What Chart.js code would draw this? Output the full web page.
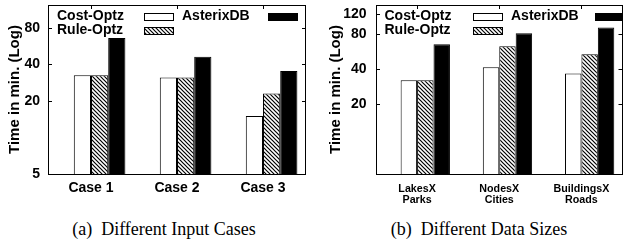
<!DOCTYPE html>
<html>
<head>
<meta charset="utf-8">
<script src="https://cdn.jsdelivr.net/npm/chart.js@4.4.1/dist/chart.umd.min.js"></script>
<style>
  body { margin: 0; background: #fff; width: 623px; height: 242px; position: relative; overflow: hidden; }
  canvas { position: absolute; top: 0; }
  #chartA { left: 0; }
  #chartB { left: 312px; }
  .caption { position: absolute; top: 219px; font-family: "Liberation Serif", "Times New Roman", serif; font-size: 18px; color: #000; white-space: pre; transform: translateX(-50%); }
</style>
</head>
<body>
<canvas id="chartA" width="312" height="212"></canvas>
<canvas id="chartB" width="311" height="212"></canvas>
<div class="caption" style="left:164px">(a)  Different Input Cases</div>
<div class="caption" style="left:479px">(b)  Different Data Sizes</div>
<script>
// series names
const seriesNames = ['Cost-Optz', 'Rule-Optz', 'AsterixDB'];

// (a) different input cases
const casesA = ['Case 1', 'Case 2', 'Case 3'];
const costA = [32.5, 31.2, 15];
const ruleA = [32.5, 31.2, 23];
const asterixA = [65.8, 46.2, 35.2];
const yTicksA = [5, 20, 40, 80];

// (b) different data sizes
const casesB = [['LakesX', 'Parks'], ['NodesX', 'Cities'], ['BuildingsX', 'Roads']];
const costB = [32.1, 41.6, 36.7];
const ruleB = [32.1, 63, 53.7];
const asterixB = [65.5, 81.6, 91.3];
const yTicksB = [20, 40, 80, 120];

// diagonal hatch like gnuplot fill pattern
function makeHatch() {
    const c = document.createElement('canvas');
    c.width = 4; c.height = 4;
    const g = c.getContext('2d');
    g.fillStyle = '#fff';
    g.fillRect(0, 0, 4, 4);
    g.strokeStyle = '#000';
    g.lineWidth = 1.2;
    g.beginPath();
    g.moveTo(-1, -1); g.lineTo(5, 5);
    g.moveTo(-1, 3); g.lineTo(1, 5);
    g.moveTo(3, -1); g.lineTo(5, 1);
    g.stroke();
    return g.createPattern(c, 'repeat');
}
const hatch = makeHatch();
const fills = ['#fff', hatch, '#000'];

// frame, mirrored inner ticks and the gnuplot style key
const framePlugin = {
    id: 'frame',
    afterDatasetsDraw(chart, args, opts) {
        const { ctx, chartArea: a } = chart;
        const ys = chart.scales.y, xs = chart.scales.x;
        ctx.save();
        ctx.strokeStyle = '#000';
        ctx.lineWidth = 1;
        ctx.strokeRect(Math.round(a.left) + 0.5, Math.round(a.top) + 0.5,
            Math.round(a.right - a.left) - 1, Math.round(a.bottom - a.top));
        ys.ticks.forEach(t => {
            if (t.value <= ys.min) return;
            const p = Math.round(ys.getPixelForValue(t.value)) + 0.5;
            ctx.beginPath();
            ctx.moveTo(a.left, p); ctx.lineTo(a.left + 4, p);
            ctx.moveTo(a.right, p); ctx.lineTo(a.right - 4, p);
            ctx.stroke();
        });
        xs.ticks.forEach(t => {
            const p = Math.round(xs.getPixelForValue(t.value)) + 0.5;
            ctx.beginPath();
            ctx.moveTo(p, a.top); ctx.lineTo(p, a.top + 4);
            ctx.stroke();
        });
        ctx.restore();
    },
    afterDraw(chart, args, opts) {
        const { ctx, chartArea: a } = chart;
        const ds = chart.data.datasets;
        ctx.save();
        ctx.font = 'bold 14px "Liberation Sans", Arial, sans-serif';
        ctx.textBaseline = 'middle';
        ctx.strokeStyle = '#000';
        ctx.lineWidth = 1;
        const slots = [
            { tx: opts.textX, sx: opts.swX, y: a.top + 11 },
            { tx: opts.textX, sx: opts.swX, y: a.top + 25 },
            { tx: opts.text2X, sx: opts.sw2X, y: a.top + 11 }
        ];
        ds.forEach((d, i) => {
            const s = slots[i];
            ctx.fillStyle = '#000';
            ctx.fillText(d.label, a.left + s.tx, s.y + 0.5);
            const bx = Math.round(a.left + s.sx) + 0.5, by = Math.round(s.y - 3.5) + 0.5;
            ctx.fillStyle = d.backgroundColor;
            ctx.fillRect(bx, by, 29, 7);
            ctx.strokeRect(bx, by, 29, 7);
        });
        ctx.restore();
    }
};

// drop the label overflow padding so the plot box sits where set
function fixBox(s, w, h) {
    if (w !== undefined) s.width = w;
    if (h !== undefined) s.height = h;
    s.paddingTop = 0; s.paddingBottom = 0;
    s.paddingLeft = 0; s.paddingRight = 0;
}

function buildChart(id, cats, series, yTicks, cfg) {
    const groupShift = 0.1;
    new Chart(document.getElementById(id), {
        type: 'bar',
        data: {
            datasets: series.map((vals, i) => ({
                label: seriesNames[i],
                data: vals.map((v, k) => ({ x: k + groupShift, y: v })),
                backgroundColor: fills[i],
                borderColor: '#000',
                borderWidth: 1,
                categoryPercentage: 0.6,
                barPercentage: 1
            }))
        },
        plugins: [framePlugin],
        options: {
            responsive: false,
            animation: false,
            layout: { padding: { top: 5, left: 0, right: cfg.padRight, bottom: 0 } },
            plugins: {
                legend: { display: false },
                tooltip: { enabled: false },
                frame: cfg.key
            },
            scales: {
                x: {
                    type: 'linear',
                    offset: false,
                    min: -0.5,
                    max: 2.5,
                    grid: { display: false, drawTicks: false, offset: false },
                    border: { display: false },
                    afterBuildTicks: s => { s.ticks = cats.map((c, i) => ({ value: i })); },
                    afterFit: s => fixBox(s, undefined, cfg.xHeight),
                    ticks: {
                        autoSkip: false,
                        maxRotation: 0,
                        padding: cfg.xPad,
                        color: '#000',
                        font: cfg.xFont,
                        callback: v => cats[v]
                    }
                },
                y: {
                    type: 'logarithmic',
                    min: cfg.yMin,
                    max: cfg.yMax,
                    grid: { display: false, drawTicks: false },
                    border: { display: false },
                    afterBuildTicks: s => { s.ticks = yTicks.map(v => ({ value: v })); },
                    afterFit: s => fixBox(s, cfg.yWidth, undefined),
                    ticks: {
                        autoSkip: false,
                        padding: cfg.yPad,
                        color: '#000',
                        font: { family: '"Liberation Sans", Arial, sans-serif', size: 14, weight: 'bold' },
                        callback: v => String(v)
                    },
                    title: {
                        display: true,
                        text: 'Time in min. (Log)',
                        color: '#000',
                        padding: { top: cfg.titlePad, bottom: 0 },
                        font: { family: '"Liberation Sans", Arial, sans-serif', size: 15, weight: 'bold' }
                    }
                }
            }
        }
    });
}

buildChart('chartA', casesA, [costA, ruleA, asterixA], yTicksA, {
    padRight: 6, xHeight: 38, xPad: 6, yWidth: 48, yPad: 8, titlePad: 6,
    yMin: 5, yMax: 123,
    xFont: { family: '"Liberation Sans", Arial, sans-serif', size: 14, weight: 'bold' },
    key: { textX: 9, swX: 96, text2X: 134, sw2X: 220 }
});

buildChart('chartB', casesB, [costB, ruleB, asterixB], yTicksB, {
    padRight: 0.5, xHeight: 38, xPad: 9, yWidth: 64, yPad: 9.5, titlePad: 15,
    yMin: 5, yMax: 143,
    xFont: { family: '"Liberation Sans", Arial, sans-serif', size: 10.7, weight: 'bold', lineHeight: '11.6px' },
    key: { textX: 8.5, swX: 96.5, text2X: 135, sw2X: 219 }
});
</script>
</body>
</html>
